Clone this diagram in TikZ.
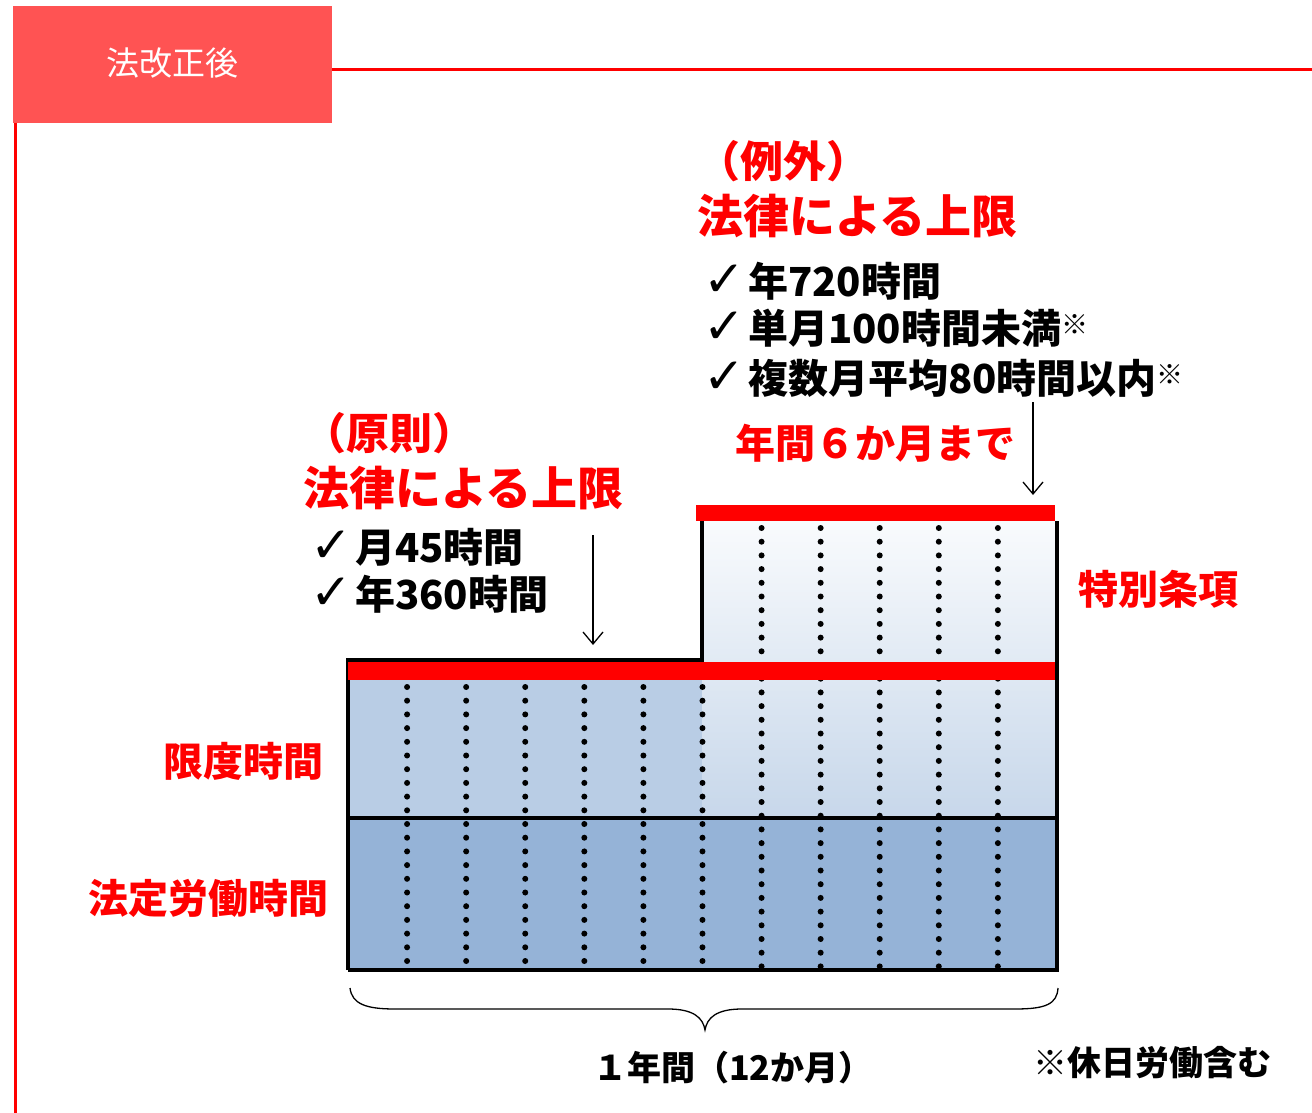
\documentclass[tikz,border=0pt]{standalone}
\usepackage{fontspec}
\usetikzlibrary{arrows.meta}
\newfontfamily\jp{Noto Sans CJK JP}
\newfontfamily\dejavu{DejaVu Sans}
\definecolor{hdr}{HTML}{FF5353}
\definecolor{pure}{HTML}{FF0000}
\definecolor{bandlow}{HTML}{95B3D7}
\definecolor{bandmid}{HTML}{B9CDE5}
\definecolor{gradtop}{HTML}{F9FBFD}
\definecolor{gradbot}{HTML}{C7D7EA}
\tikzset{
  lbl/.style={inner sep=0pt, anchor=west, font=\jp\bfseries},
  redlbl/.style={lbl, text=pure},
  blklbl/.style={lbl, text=black},
  dotline/.style={line width=6pt, line cap=round, dash pattern=on 0pt off 13.7pt},
  border/.style={line width=3.5pt, black},
  thinarrow/.style={line width=1.3pt, -{Straight Barb[length=12pt,width=20pt,line width=1.3pt]}},
}
\newcommand{\chk}{{\dejavu\bfseries\fontsize{50pt}{50pt}\selectfont ✓}\hspace{3pt}}
\newcommand{\kome}{\raisebox{9pt}{\fontsize{27pt}{28pt}\selectfont ※}}
\begin{document}
\begin{tikzpicture}[x=1pt,y=-1pt]
\useasboundingbox (0,0) rectangle (1312,1113);
% header
\fill[hdr] (13,6) rectangle (332,123);
\node[inner sep=0pt, text=white, font=\jp\fontsize{33pt}{36pt}\selectfont] (hdrtext) at (172,63) {法改正後};
\draw[pure, line width=3pt] (332,70) -- (1312,70);
\draw[pure, line width=3pt] (15,123) -- (15,1113);

% chart fills
\fill[bandlow] (348,818) rectangle (1057,970);
\fill[bandmid] (348,680) rectangle (702,818);
\shade[top color=gradtop, bottom color=gradbot] (702,521) rectangle (1057,818);

% dotted month lines
\foreach \i in {1,...,6} {
  \draw[dotline] ({348+59.08*\i},687) -- ({348+59.08*\i},970);
}
\foreach \i in {7,...,11} {
  \draw[dotline] ({348+59.08*\i},528) -- ({348+59.08*\i},970);
}

% borders
\draw[border] (348,970) -- (348,660) -- (702,660) -- (702,521);
\draw[border] (1057,521) -- (1057,970) -- (348,970);
\draw[line width=4pt] (348,818) -- (1057,818);

% red limit bars
\fill[pure] (348,662) rectangle (1055,680);
\fill[pure] (696,505) rectangle (1055,521);

% brace
\draw[line width=1.3pt] (350,988) .. controls (352,1004) and (366,1009) .. (395,1009) -- (668,1009) .. controls (694,1009) and (703,1018) .. (705,1030) .. controls (707,1018) and (716,1009) .. (742,1009) -- (1015,1009) .. controls (1046,1009) and (1057,1004) .. (1058,988);

% labels exception
\node[redlbl, font=\jp\bfseries\fontsize{43pt}{46pt}\selectfont] (exc) at (697,161) {（例外）};
\node[redlbl, font=\jp\bfseries\fontsize{46pt}{48pt}\selectfont] (exclaw) at (697,216) {法律による上限};
\node[blklbl, font=\jp\bfseries\fontsize{40pt}{44pt}\selectfont] (e1) at (703,281) {\chk 年720時間};
\node[blklbl, font=\jp\bfseries\fontsize{40pt}{44pt}\selectfont] (e2) at (703,328) {\chk 単月100時間未満\kome};
\node[blklbl, font=\jp\bfseries\fontsize{40pt}{44pt}\selectfont] (e3) at (703,378) {\chk 複数月平均80時間以内\kome};
\node[redlbl, font=\jp\bfseries\fontsize{40pt}{42pt}\selectfont] (six) at (735,443) {年間６か月まで};

% labels principle
\node[redlbl, font=\jp\bfseries\fontsize{43pt}{46pt}\selectfont] (pri) at (303,433) {（原則）};
\node[redlbl, font=\jp\bfseries\fontsize{46pt}{48pt}\selectfont] (prilaw) at (303,488) {法律による上限};
\node[blklbl, font=\jp\bfseries\fontsize{40pt}{44pt}\selectfont] (p1) at (310,547) {\chk 月45時間};
\node[blklbl, font=\jp\bfseries\fontsize{40pt}{44pt}\selectfont] (p2) at (310,594) {\chk 年360時間};

% side labels
\node[redlbl, font=\jp\bfseries\fontsize{40pt}{44pt}\selectfont] (special) at (1078,589) {特別条項};
\node[redlbl, font=\jp\bfseries\fontsize{40pt}{44pt}\selectfont] (limit) at (163,761) {限度時間};
\node[redlbl, font=\jp\bfseries\fontsize{40pt}{44pt}\selectfont] (legal) at (88,898) {法定労働時間};

% bottom labels
\node[blklbl, font=\jp\bfseries\fontsize{34pt}{36pt}\selectfont] (year) at (593,1068) {１年間（12か月）};
\node[blklbl, font=\jp\bfseries\fontsize{34pt}{36pt}\selectfont] (note) at (1033,1063) {※休日労働含む};

% arrows
\coordinate (a1s) at (593,535);
\coordinate (a1e) at (593,645);
\coordinate (a2s) at (1033,402);
\coordinate (a2e) at (1033,495);
\draw[thinarrow] (a1s) -- (a1e);
\draw[thinarrow] (a2s) -- (a2e);
\end{tikzpicture}
\end{document}
